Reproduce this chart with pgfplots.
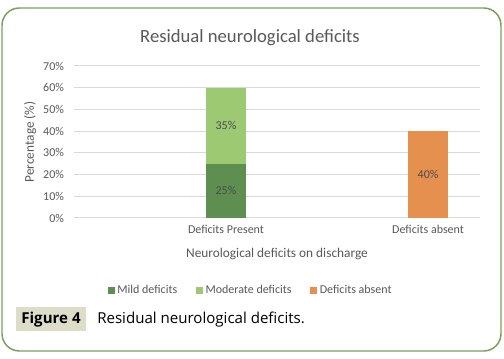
\documentclass[border=0pt]{standalone}
\usepackage{fontspec}
\setmainfont{Carlito}
\newfontfamily\capfont{Open Sans}
\usepackage{pgfplots}
\pgfplotsset{compat=1.18}
\definecolor{mild}{HTML}{5F8F50}
\definecolor{moderate}{HTML}{9DC972}
\definecolor{absent}{HTML}{E69050}
\definecolor{txt}{HTML}{595959}
\definecolor{gridc}{HTML}{D9D9D9}
\definecolor{borderc}{HTML}{7BA05B}
\definecolor{capbox}{HTML}{DEDDC8}
\begin{document}
\begin{tikzpicture}[x=0.75pt,y=-0.75pt]
\path[use as bounding box] (0,0) rectangle (504,359);
\fill[white] (0,0) rectangle (504,359);
\draw[draw=borderc, line width=1.1pt, rounded corners=13pt] (2,8) rectangle (501,351);
\node[font=\fontsize{14}{16}\selectfont, text=txt] at (250,38) {Residual neurological deficits};
\coordinate (A) at (74,218);
\begin{axis}[
  at={(A)}, anchor=south west, scale only axis,
  width=304.5pt, height=114pt,
  xmin=-0.752, xmax=1.257, ymin=0, ymax=70,
  xtick={0,1}, xticklabels={Deficits Present, Deficits absent},
  ytick={0,10,...,70}, yticklabel={\pgfmathprintnumber{\tick}\%},
  /pgf/number format/assume math mode=true,
  ymajorgrids, grid style={gridc, line width=0.75pt},
  axis line style={draw=none}, major tick length=0pt,
  tick label style={font=\fontsize{9}{11}\selectfont, text=txt},
  yticklabel style={xshift=-4pt},
  xticklabel style={yshift=-2pt},
  xlabel={Neurological deficits on discharge},
  ylabel={Percentage (\%)},
  label style={font=\fontsize{10}{12}\selectfont, text=txt},
  xlabel style={at={(axis description cs:0.5,-0.237)}, anchor=center},
  ylabel style={at={(axis description cs:-0.108,0.5)}, anchor=center},
  legend style={at={(0.436,-0.474)}, anchor=center, draw=none, fill=none,
    legend columns=3, font=\fontsize{9}{11}\selectfont, text=txt,
    /tikz/every even column/.append style={column sep=12pt}},
  legend image code/.code={\fill[#1] (0pt,-2.6pt) rectangle (5.2pt,2.6pt);},
  clip=false,
]
\addplot[ybar, bar width=0.198, bar shift=0pt, fill=moderate, draw=none, forget plot] coordinates {(0,60)};
\addplot[ybar, bar width=0.198, bar shift=0pt, fill=mild, draw=none] coordinates {(0,25)};
\addlegendentry{Mild deficits}
\addlegendimage{fill=moderate, draw=none}
\addlegendentry{Moderate deficits}
\addplot[ybar, bar width=0.198, bar shift=0pt, fill=absent, draw=none] coordinates {(1,40)};
\addlegendentry{Deficits absent}
\addplot[draw=none, mark=none, forget plot, nodes near coords, point meta=explicit symbolic,
  nodes near coords align=center,
  every node near coord/.append style={font=\fontsize{9}{11}\selectfont, text=txt!85!black}]
  coordinates {(0,12.5)[25\%] (0,42.5)[35\%] (1,20)[40\%]};
\end{axis}
\fill[capbox] (16,307) rectangle (86,331);
\node[font=\capfont\bfseries\fontsize{11.3}{14}\selectfont, text=black] at (51,319.5) {Figure 4};
\node[font=\capfont\fontsize{11.3}{14}\selectfont, text=black, anchor=west, inner sep=0pt] at (97,319.5) {Residual neurological deficits.};
\end{tikzpicture}
\end{document}
